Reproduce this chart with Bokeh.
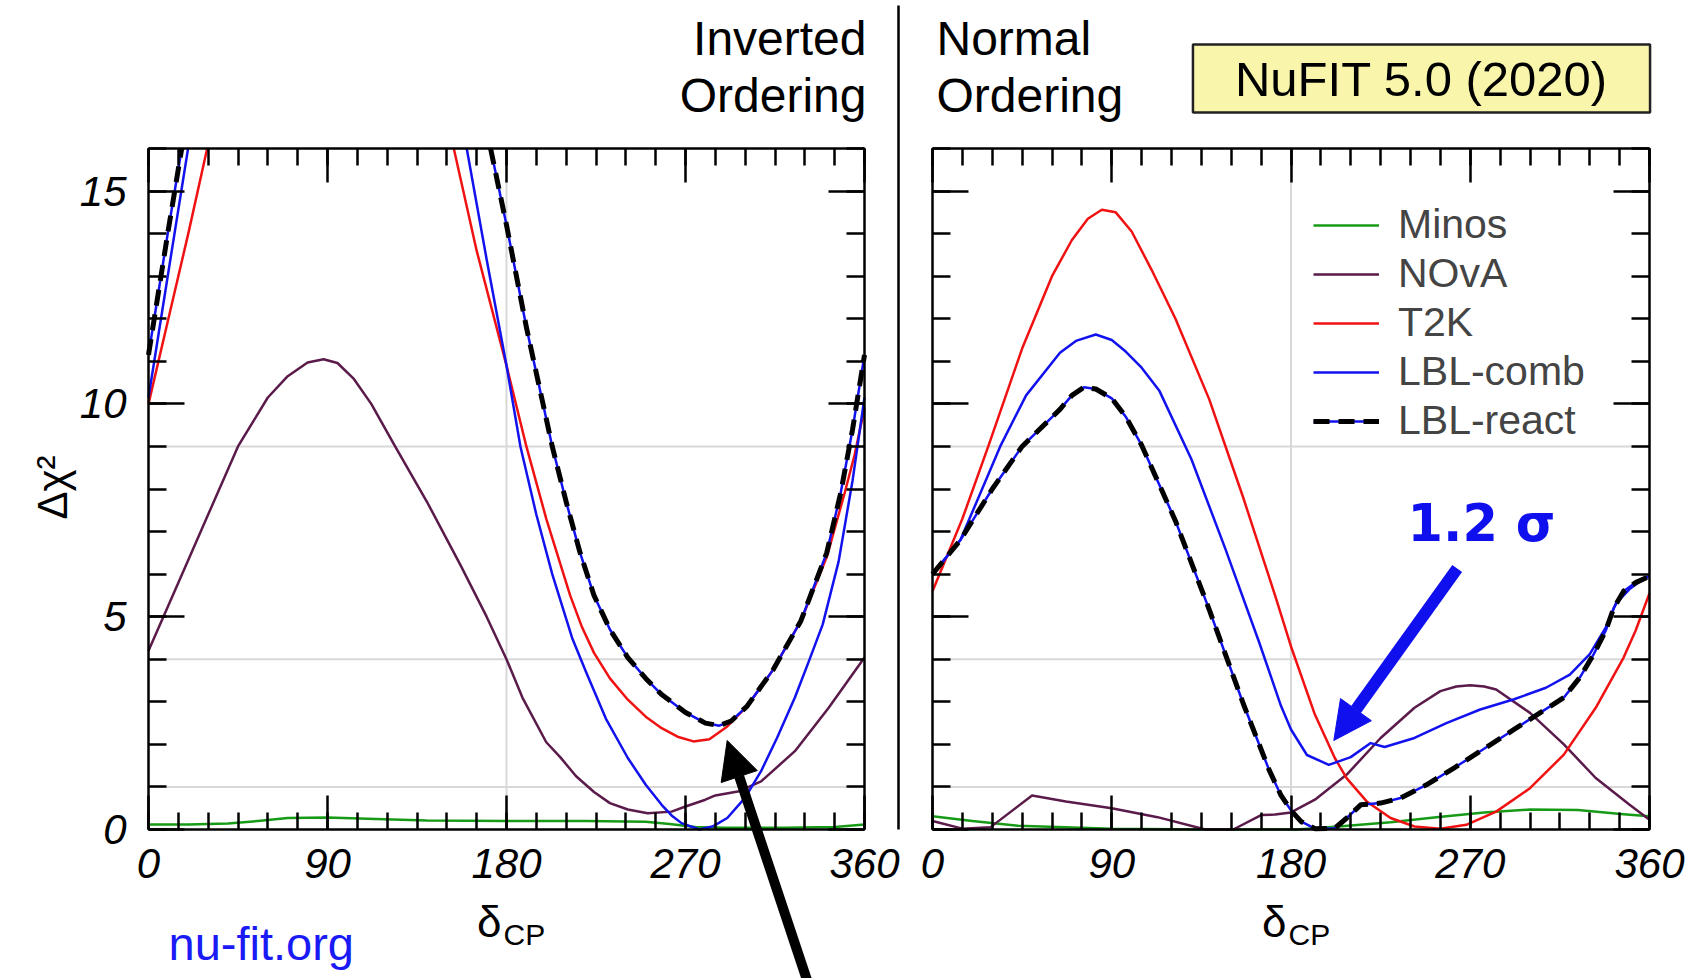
import math
from bokeh.plotting import figure
from bokeh.models import (Range1d, FixedTicker, LinearAxis, Label, Arrow, NormalHead,
                          Legend, LegendItem)
from bokeh.embed import file_html
from bokeh.resources import INLINE

NaN = float("nan")

# ---------------- axes / reference values ----------------
X_RANGE = (0, 360)
Y_RANGE = (0, 16)
X_MAJOR = [0, 90, 180, 270, 360]
X_MINOR = list(range(0, 361, 15))
Y_MAJOR = [0, 5, 10, 15]
Y_MINOR = list(range(0, 17))
REF_CHI2 = [1, 4, 9]
REF_DELTA = [180]

# ---------------- Inverted Ordering (left panel) ----------------
io_minos_x = [0, 20, 40, 55, 70, 90, 110, 140, 180, 220, 250, 262, 275, 290, 320, 345, 360]
io_minos_y = [0.12, 0.12, 0.14, 0.2, 0.27, 0.28, 0.25, 0.21, 0.2, 0.2, 0.18, 0.13, 0.06, 0.04, 0.04, 0.06, 0.12]

io_nova_x = [0, 15, 30, 45, 60, 70, 80, 88, 95, 103, 112, 124, 140, 157, 170, 180, 188, 200, 207, 215, 224,
             232, 241, 251, 263, 270, 280, 285, 297, 308, 325, 342, 360]
io_nova_y = [4.2, 5.8, 7.4, 9.0, 10.15, 10.65, 10.97, 11.05, 10.96, 10.6, 10.0, 9.0, 7.7, 6.2, 5.0, 4.0, 3.1, 2.05, 1.7, 1.25, 0.88,
             0.62, 0.47, 0.38, 0.42, 0.54, 0.7, 0.8, 0.9, 1.13, 1.84, 2.86, 4.04]

io_t2k_x = [0, 10, 20, 29.5, NaN, 153.5, 165, 180, 190, 200, 212, 218, 224, 232, 241, 250, 258, 266, 274,
            282, 291, 301, 314, 328, 341, 350, 355, 360]
io_t2k_y = [10.0, 12.0, 14.0, 16.0, NaN, 16.0, 13.6, 10.9, 9.0, 7.3, 5.5, 4.75, 4.15, 3.55, 3.05, 2.65, 2.38, 2.18, 2.07,
            2.12, 2.42, 2.9, 3.75, 4.9, 6.4, 7.9, 8.8, 9.9]

io_comb_x = [0, 10, 19.9, NaN, 160, 170, 180, 187, 195, 203, 207, 213, 220, 230, 241, 250, 258, 263, 268, 277,
             284, 291, 300, 308, 316, 325, 332, 339, 347, 354, 360]
io_comb_y = [10.15, 13.1, 16.0, NaN, 16.0, 13.4, 10.9, 9.0, 7.4, 6.0, 5.4, 4.5, 3.7, 2.6, 1.68, 1.05, 0.58, 0.33, 0.15, 0.0,
             0.08, 0.27, 0.75, 1.37, 2.15, 3.1, 3.95, 4.82, 6.3, 8.2, 10.15]

io_react_x = [0, 10, 16.7, NaN, 172, 180, 190, 203, 210, 217, 224, 232, 241, 250, 258, 270, 280, 287, 293,
              301, 314, 328, 341, 348, 354, 360]
io_react_y = [11.15, 14.1, 16.0, NaN, 16.0, 14.2, 11.8, 9.0, 7.7, 6.5, 5.5, 4.7, 4.04, 3.55, 3.17, 2.75, 2.5, 2.44, 2.55,
              2.9, 3.75, 4.9, 6.5, 7.9, 9.4, 11.15]

# ---------------- Normal Ordering (right panel) ----------------
no_minos_x = [0, 20, 43, 90, 137, 183, 207, 230, 253, 277, 300, 324, 347, 360]
no_minos_y = [0.31, 0.2, 0.09, 0.02, 0.0, 0.0, 0.08, 0.17, 0.29, 0.4, 0.47, 0.46, 0.36, 0.31]

no_nova_x = [0, 15, 29, 50, 67, 90, 113, 137, 151, 165, 172, 180, 192, 208, 225, 242, 255, 263, 270, 277, 283, 300,
             317, 333, 350, 360]
no_nova_y = [0.2, 0.02, 0.05, 0.8, 0.66, 0.5, 0.29, 0.0, 0.0, 0.34, 0.35, 0.4, 0.7, 1.29, 2.15, 2.86, 3.25, 3.36, 3.39, 3.36, 3.29, 2.74,
             2.0, 1.21, 0.58, 0.23]

no_t2k_x = [0, 15, 28, 45, 60, 70, 78, 85, 92, 100, 110, 122, 139, 156, 172, 180, 192, 202, 208, 218, 230, 242, 255,
            268, 283, 300, 317, 333, 347, 353, 360]
no_t2k_y = [5.6, 7.3, 9.0, 11.3, 13.0, 13.85, 14.35, 14.56, 14.5, 14.05, 13.15, 12.0, 10.1, 7.8, 5.5, 4.3, 2.7, 1.68, 1.2, 0.66, 0.27, 0.07, 0.02,
            0.11, 0.42, 0.97, 1.76, 2.86, 4.04, 4.67, 5.55]

no_comb_x = [0, 14, 34, 47, 64, 72, 82, 90, 97, 105, 114, 130, 147, 164, 175, 180, 188, 199, 210, 220, 227, 242, 258, 275,
             292, 308, 320, 330, 338, 343, 350, 358, 360]
no_comb_y = [6.0, 6.8, 9.0, 10.2, 11.2, 11.48, 11.63, 11.5, 11.23, 10.85, 10.3, 8.7, 6.6, 4.4, 2.9, 2.35, 1.75, 1.52, 1.7, 2.03, 1.94, 2.15, 2.5, 2.82,
             3.06, 3.33, 3.64, 4.12, 4.74, 5.3, 5.65, 5.92, 5.95]

no_react_x = [0, 14, 30, 45, 64, 70, 76, 82, 90, 97, 105, 122, 139, 156, 169, 175, 180, 185, 192, 202, 208, 215, 225, 235,
              248, 262, 275, 292, 305, 317, 325, 332, 338, 342, 347, 353, 360]
no_react_y = [6.0, 6.8, 8.0, 9.0, 9.87, 10.2, 10.39, 10.35, 10.13, 9.7, 9.03, 7.25, 5.16, 2.96, 1.4, 0.8, 0.45, 0.19, 0.02, 0.03, 0.27, 0.58, 0.62, 0.74,
              1.05, 1.45, 1.84, 2.35, 2.74, 3.1, 3.57, 4.12, 4.67, 5.2, 5.6, 5.8, 5.95]

SERIES = ["Minos", "NOvA", "T2K", "LBL-comb", "LBL-react"]
COLORS = {"Minos": "#179b17", "NOvA": "#5a1a4a", "T2K": "#f01212", "LBL-comb": "#1212ee"}
FONT = "Liberation Sans"

# ---------------- page layout (pixels) ----------------
W, H = 1696, 978
L_X0, L_X1 = 148, 864          # left panel frame
R_X0, R_X1 = 932, 1649         # right panel frame
Y_TOP, Y_BOT = 148, 829        # both panels
SL = (L_X1 - L_X0) / (X_RANGE[1] - X_RANGE[0])
SR = (R_X1 - R_X0) / (X_RANGE[1] - X_RANGE[0])
SY = (Y_BOT - Y_TOP) / (Y_RANGE[1] - Y_RANGE[0])


def lx(px):
    return X_RANGE[0] + (px - L_X0) / SL


def rx(px):
    return X_RANGE[0] + (px - R_X0) / SR


def vy(py):
    return Y_RANGE[0] + (Y_BOT - py) / SY


p = figure(width=W, height=H, output_backend="svg", toolbar_location=None,
           x_range=Range1d(lx(0), lx(W)), y_range=Range1d(vy(H), vy(0)),
           x_axis_location=None, y_axis_location=None,
           min_border=0, min_border_left=0, min_border_right=0, min_border_top=0, min_border_bottom=0,
           background_fill_color="white", border_fill_color="white")
p.extra_x_ranges = {"no": Range1d(rx(0), rx(W))}
p.outline_line_color = None
p.grid.visible = False


def add_axis(side, xr, fixed, bounds, major, minor, labels, tick_major, tick_minor, standoff):
    ax = LinearAxis(x_range_name=xr, fixed_location=fixed, bounds=bounds,
                    ticker=FixedTicker(ticks=major, minor_ticks=minor))
    ax.axis_line_color = "black"
    ax.axis_line_width = 2.5
    ax.major_tick_in = tick_major
    ax.major_tick_out = 0
    ax.minor_tick_in = tick_minor
    ax.minor_tick_out = 0
    ax.major_tick_line_color = "black"
    ax.minor_tick_line_color = "black"
    ax.major_tick_line_width = 2.5
    ax.minor_tick_line_width = 2.5
    if labels:
        ax.major_label_text_font = FONT
        ax.major_label_text_font_style = "italic"
        ax.major_label_text_font_size = "42px"
        ax.major_label_text_color = "black"
        ax.major_label_standoff = standoff
    else:
        ax.major_label_overrides = {t: "" for t in major}
        ax.major_label_standoff = 0
    p.add_layout(ax, side)


for xr, ylabels in (("default", True), ("no", False)):
    # reference (sigma) lines
    p.segment(x0=[X_RANGE[0]] * len(REF_CHI2), x1=[X_RANGE[1]] * len(REF_CHI2), y0=REF_CHI2, y1=REF_CHI2,
              line_color="#d8d8d8", line_width=2, x_range_name=xr)
    p.segment(x0=REF_DELTA, x1=REF_DELTA, y0=[Y_RANGE[0]] * len(REF_DELTA), y1=[Y_RANGE[1]] * len(REF_DELTA),
              line_color="#d8d8d8", line_width=2, x_range_name=xr)
    add_axis("below", xr, Y_RANGE[0], X_RANGE, X_MAJOR, X_MINOR, True, 34, 17, 19)
    add_axis("above", xr, Y_RANGE[1], X_RANGE, X_MAJOR, X_MINOR, False, 34, 17, 0)
    add_axis("left", xr, X_RANGE[0], Y_RANGE, Y_MAJOR, Y_MINOR, ylabels, 36, 18, 22)
    add_axis("right", xr, X_RANGE[1], Y_RANGE, Y_MAJOR, Y_MINOR, False, 36, 18, 0)


def draw_set(data, xr):
    rs = {}
    for name in ["Minos", "NOvA", "T2K", "LBL-comb"]:
        xs, ys = data[name]
        rs[name] = [p.line(xs, ys, line_color=COLORS[name], line_width=2.5, line_join="round", x_range_name=xr)]
    xs, ys = data["LBL-react"]
    r1 = p.line(xs, ys, line_color=COLORS["LBL-comb"], line_width=2.5, line_join="round", x_range_name=xr)
    r2 = p.line(xs, ys, line_color="black", line_width=5, line_dash="16 9", line_join="round", x_range_name=xr)
    rs["LBL-react"] = [r1, r2]
    return rs


def txt(x, y, text, size, xr="default", align="left", color="black",
        style="normal", angle=0.0, font=FONT, **kw):
    # y is the visual middle of the text line
    lab = Label(x=x, y=y, text=text, text_font=font, text_font_size=size, text_align=align,
                text_baseline="middle", text_color=color, text_font_style=style, angle=angle,
                x_range_name=xr, **kw)
    p.add_layout(lab)
    return lab


draw_set({"Minos": (io_minos_x, io_minos_y), "NOvA": (io_nova_x, io_nova_y),
          "T2K": (io_t2k_x, io_t2k_y), "LBL-comb": (io_comb_x, io_comb_y),
          "LBL-react": (io_react_x, io_react_y)}, "default")
rs = draw_set({"Minos": (no_minos_x, no_minos_y), "NOvA": (no_nova_x, no_nova_y),
               "T2K": (no_t2k_x, no_t2k_y), "LBL-comb": (no_comb_x, no_comb_y),
               "LBL-react": (no_react_x, no_react_y)}, "no")

# divider between the two panels
p.segment(x0=[lx(898)], x1=[lx(898)], y0=[vy(Y_BOT)], y1=[vy(5)], line_color="black", line_width=2.5)

# texts around the panels
txt(lx(866), vy(38), "Inverted", "48px", align="right")
txt(lx(866), vy(95), "Ordering", "48px", align="right")
txt(rx(936), vy(38), "Normal", "48px", xr="no")
txt(rx(936), vy(95), "Ordering", "48px", xr="no")
txt(rx(1421), vy(78), "NuFIT 5.0 (2020)", "49px", xr="no", align="center",
    background_fill_color="#f9f6ac", border_line_color="#222222", border_line_width=2.5,
    padding=dict(left=42, right=42, top=7, bottom=7))
txt(lx(52), vy(487), "Δχ²", "42px", align="center", angle=math.pi / 2)
txt(lx(501), vy(921), "δ", "44px", align="right")
txt(lx(503), vy(934), "CP", "30px", align="left")
txt(rx(1286), vy(921), "δ", "44px", xr="no", align="right")
txt(rx(1288), vy(934), "CP", "30px", xr="no", align="left")
txt(lx(168), vy(943), "nu-fit.org", "47px", color="#1a1af5")
txt(rx(1481), vy(523), "1.2 σ", "51px", xr="no", align="center", color="#1010ee", style="bold",
    font="DejaVu Sans")

p.add_layout(Arrow(end=NormalHead(size=38, fill_color="black", line_color="black", line_width=1),
                   x_start=lx(813.3), y_start=vy(1000), x_end=lx(726.7), y_end=vy(740),
                   line_color="black", line_width=10))
p.add_layout(Arrow(end=NormalHead(size=38, fill_color="#1010ee", line_color="#1010ee", line_width=1),
                   x_start=rx(1456.7), y_start=vy(568), x_end=rx(1333.3), y_end=vy(740),
                   line_color="#1010ee", line_width=12, x_range_name="no"))

legend = Legend(items=[LegendItem(label=n, renderers=rs[n]) for n in SERIES],
                location=(1313, H - 444), orientation="vertical", border_line_color=None,
                background_fill_alpha=0, label_text_font=FONT, label_text_font_size="41px",
                glyph_width=66, glyph_height=40, label_height=40, spacing=2, padding=0, margin=0,
                label_standoff=19)
p.add_layout(legend)

open("out.html", "w").write(file_html(p, INLINE))
